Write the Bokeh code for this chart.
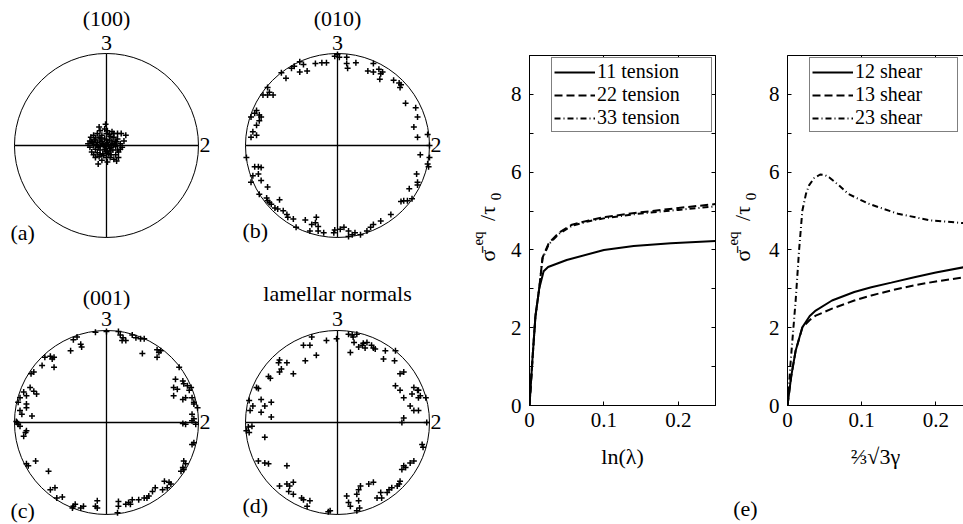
import math
from bokeh.plotting import figure
from bokeh.layouts import row, column
from bokeh.models import Range1d, FixedTicker, LinearAxis
from bokeh.core.properties import value
from bokeh.embed import file_html
from bokeh.resources import INLINE

FONT = "Liberation Serif"

# ---------------- pole figure data (normalised to unit circle) ----------------
a_x = [-0.01, -0.02, -0.07, 0.01, 0.06, 0.12, 0.16, 0.21, -0.10, -0.14, -0.17, -0.18, -0.16, -0.12, -0.08,
       -0.05, 0.00, 0.04, 0.08, 0.12, 0.10, 0.06, 0.03, -0.02, -0.07, -0.10, -0.14, -0.18, -0.12, -0.07,
       -0.04, 0.01, 0.05, 0.10, 0.15, 0.15, 0.12, 0.07, 0.03, -0.02, -0.07, -0.10, -0.14, -0.08, -0.04,
       0.01, 0.05, 0.10, 0.13, 0.17, 0.08, 0.04, 0.00, -0.05, -0.09, 0.11, 0.01, -0.03, -0.12, -0.16,
       -0.07, 0.04, -0.01, -0.05, 0.08, -0.08, 0.13, 0.19, -0.20, 0.03,
       -0.11, -0.03, 0.02, 0.07, -0.13, -0.06, 0.00, 0.09, -0.09, 0.05, -0.01, -0.04, 0.11, -0.15, 0.02]
a_y = [0.23, 0.18, 0.16, 0.16, 0.15, 0.13, 0.13, 0.11, 0.13, 0.11, 0.09, 0.05, 0.04, 0.07, 0.09,
       0.11, 0.13, 0.10, 0.09, 0.07, 0.04, 0.05, 0.06, 0.07, 0.05, 0.03, 0.00, -0.02, -0.04, -0.01,
       0.02, 0.03, 0.01, -0.01, 0.02, -0.04, -0.05, -0.05, -0.03, -0.04, -0.05, -0.08, -0.10, -0.12, -0.09,
       -0.07, -0.10, -0.10, -0.07, -0.02, -0.15, -0.13, -0.13, -0.16, -0.20, -0.17, -0.18, -0.11, -0.13, -0.07,
       -0.10, -0.06, -0.01, 0.04, 0.13, 0.20, -0.13, 0.05, 0.02, 0.12,
       0.01, 0.00, 0.01, 0.02, 0.06, 0.08, 0.06, 0.01, -0.02, -0.02, -0.06, 0.01, 0.04, 0.03, -0.09]

b_x = [-0.03, 0.00, 0.02, 0.10, 0.10, 0.11, 0.20, -0.24, -0.17, -0.12, -0.41, -0.37, -0.47, -0.50, -0.33,
       -0.41, -0.56, -0.61, 0.39, 0.33, 0.39, 0.45, 0.47, 0.49, 0.46, 0.61, 0.67, 0.69, 0.68, 0.74,
       0.85, 0.87, 0.83, 0.87, 0.98, 1.00, 0.90, 1.00, 0.98, 0.99, 0.86, 0.87, 0.87, 0.78, 0.76,
       0.69, 0.72, 0.81, 0.58, 0.47, 0.39, 0.36, 0.32, 0.25, 0.19, 0.16, 0.12, 0.07, 0.03, -0.03,
       -0.04, 0.12, -0.76, -0.74, -0.81, -0.76, -0.70, -0.88, -0.90, -0.85, -0.94, -0.83, -0.85, -0.88, -0.92,
       -0.94, -0.88, -0.99, -0.90, -0.86, -0.83, -0.92, -0.86, -0.94, -0.83, -0.76, -0.85, -0.77, -0.76, -0.74,
       -0.72, -0.63, -0.68, -0.65, -0.59, -0.55, -0.54, -0.48, -0.45, -0.35, -0.28, -0.24, -0.23, -0.21, -0.30,
       -0.21, -0.15]
b_y = [0.97, 0.99, 0.96, 0.96, 0.89, 0.84, 0.90, 0.89, 0.90, 0.90, 0.91, 0.88, 0.86, 0.84, 0.81,
       0.80, 0.73, 0.79, 0.89, 0.81, 0.80, 0.83, 0.78, 0.80, 0.72, 0.71, 0.68, 0.66, 0.63, 0.46,
       0.41, 0.31, 0.20, 0.09, 0.12, 0.00, -0.10, -0.13, -0.20, -0.23, -0.31, -0.40, -0.43, -0.47, -0.60,
       -0.61, -0.60, -0.58, -0.75, -0.82, -0.86, -0.89, -0.93, -0.97, -0.95, -0.97, -0.93, -0.89, -0.91, -0.92,
       -0.95, -0.99, 0.63, 0.58, 0.55, 0.55, 0.55, 0.38, 0.35, 0.33, 0.31, 0.31, 0.27, 0.22, 0.15,
       0.09, 0.11, -0.13, -0.23, -0.23, -0.24, -0.33, -0.31, -0.40, -0.38, -0.45, -0.53, -0.57, -0.60, -0.62,
       -0.64, -0.59, -0.68, -0.69, -0.71, -0.75, -0.78, -0.80, -0.89, -0.81, -0.86, -0.84, -0.78, -0.88, -0.93,
       -0.93, -0.95]

c_x = [-0.12, 0.00, 0.13, 0.15, 0.18, 0.21, 0.17, 0.28, 0.32, 0.37, 0.41, 0.39, 0.55, 0.57, 0.55,
       0.59, -0.32, -0.36, -0.28, -0.27, -0.39, -0.61, -0.57, -0.59, -0.67, -0.70, -0.57, -0.79, -0.82, -0.83,
       -0.79, -0.76, -0.90, -0.87, -0.94, -0.96, -0.87, -0.87, -0.94, -0.92, -0.81, -0.98, -0.97, -0.96, -0.94,
       -0.87, -0.88, -0.90, 0.79, 0.75, 0.83, 0.84, 0.73, 0.77, 0.88, 0.90, 0.92, 0.86, 0.93, 0.83,
       0.73, 0.95, 0.95, 0.99, 0.93, 0.95, 0.93, 0.83, 0.86, 0.97, 0.95, 0.93, 0.84, 0.86, 0.83,
       0.84, 0.81, 0.63, 0.68, 0.70, 0.53, 0.66, 0.61, 0.50, 0.46, 0.41, 0.44, 0.35, 0.28, 0.24,
       0.26, 0.21, 0.13, 0.13, 0.12, -0.10, -0.12, -0.10, -0.25, -0.28, -0.36, -0.37, -0.34, -0.48, -0.54,
       -0.56, -0.61, -0.63, -0.77, -0.87, -0.85]
c_y = [0.98, 0.99, 0.99, 0.95, 0.92, 0.89, 0.89, 0.95, 0.92, 0.91, 0.91, 0.75, 0.79, 0.76, 0.71,
       0.78, 0.93, 0.90, 0.85, 0.82, 0.78, 0.72, 0.71, 0.69, 0.71, 0.62, 0.60, 0.55, 0.53, 0.38,
       0.34, 0.31, 0.33, 0.29, 0.27, 0.22, 0.20, 0.16, 0.13, 0.09, 0.07, 0.01, 0.00, -0.02, -0.04,
       -0.09, -0.11, -0.15, 0.60, 0.47, 0.45, 0.42, 0.38, 0.36, 0.40, 0.35, 0.38, 0.27, 0.27, 0.25,
       0.29, 0.22, 0.20, 0.16, 0.09, 0.04, 0.02, -0.01, -0.02, -0.02, -0.22, -0.24, -0.42, -0.45, -0.49,
       -0.51, -0.53, -0.64, -0.65, -0.67, -0.71, -0.71, -0.73, -0.75, -0.80, -0.82, -0.82, -0.84, -0.84, -0.87,
       -0.89, -0.89, -0.86, -0.91, -0.98, -0.85, -0.91, -0.93, -0.91, -0.93, -0.91, -0.93, -0.89, -0.81, -0.82,
       -0.71, -0.73, -0.53, -0.42, -0.45, -0.47]

d_x = [-0.28, -0.30, -0.37, -0.12, -0.01, 0.12, 0.16, 0.17, 0.21, 0.18, 0.23, 0.27, 0.28, 0.32, 0.37,
       0.39, 0.30, 0.14, 0.41, 0.52, 0.63, 0.50, 0.62, -0.23, -0.35, -0.55, -0.63, -0.64, -0.61, -0.63,
       -0.48, -0.75, -0.73, -0.88, -0.86, -0.96, -0.83, -0.72, -0.79, -0.83, -0.92, -0.95, -0.72, -0.93, -0.97,
       -0.99, -0.96, 0.68, 0.72, 0.63, 0.68, 0.83, 0.87, 0.81, 0.88, 0.90, 0.88, 0.96, 0.72, 0.79,
       0.83, 0.72, 0.88, 0.70, 0.97, 0.92, 0.93, 0.83, 0.79, 0.72, 0.74, 0.70, 0.68, 0.67, 0.65,
       0.59, 0.56, 0.54, 0.47, 0.43, 0.48, 0.39, 0.34, 0.25, 0.23, 0.21, 0.10, 0.12, 0.14, 0.23,
       0.24, 0.21, -0.08, -0.10, -0.79, -0.86, -0.79, -0.75, -0.55, -0.63, -0.55, -0.52, -0.48, -0.53, -0.48,
       -0.39, -0.37, -0.30, -0.33]
d_y = [0.93, 0.84, 0.84, 0.89, 0.91, 0.96, 0.95, 0.93, 0.96, 0.87, 0.82, 0.84, 0.86, 0.87, 0.84,
       0.81, 0.81, 0.76, 0.80, 0.78, 0.78, 0.69, 0.67, 0.73, 0.67, 0.65, 0.68, 0.65, 0.58, 0.55,
       0.53, 0.50, 0.48, 0.38, 0.37, 0.24, 0.25, 0.22, 0.18, 0.11, 0.18, 0.13, 0.06, -0.04, -0.05,
       -0.09, -0.11, 0.53, 0.55, 0.40, 0.35, 0.38, 0.35, 0.31, 0.35, 0.29, 0.27, 0.27, 0.27, 0.18,
       0.13, 0.05, 0.13, 0.00, 0.00, -0.24, -0.27, -0.42, -0.44, -0.47, -0.49, -0.51, -0.64, -0.67, -0.69,
       -0.71, -0.73, -0.76, -0.76, -0.82, -0.82, -0.65, -0.67, -0.69, -0.73, -0.78, -0.80, -0.87, -0.91, -0.85,
       -0.93, -0.96, -0.96, -0.97, -0.16, -0.42, -0.44, -0.45, -0.47, -0.69, -0.67, -0.69, -0.65, -0.75, -0.78,
       -0.82, -0.84, -0.85, -0.91]

pole_titles = ["(100)", "(010)", "(001)", "lamellar normals"]
pole_letters = ["(a)", "(b)", "(c)", "(d)"]

# ---------------- stress-strain data ----------------
t_x11 = [0, 0.004, 0.008, 0.013, 0.019, 0.025, 0.05, 0.1, 0.14, 0.19, 0.25]
t_y11 = [0, 1.2, 2.3, 3.0, 3.45, 3.56, 3.74, 4.0, 4.1, 4.17, 4.23]
t_x22 = [0, 0.004, 0.008, 0.013, 0.0175, 0.026, 0.04, 0.057, 0.08, 0.102, 0.146, 0.2, 0.25]
t_y22 = [0, 1.2, 2.3, 3.0, 3.8, 4.18, 4.45, 4.65, 4.76, 4.85, 4.96, 5.08, 5.18]
t_x33 = [0, 0.004, 0.008, 0.013, 0.0175, 0.026, 0.04, 0.057, 0.08, 0.102, 0.146, 0.2, 0.25]
t_y33 = [0, 1.2, 2.3, 3.0, 3.78, 4.15, 4.42, 4.62, 4.74, 4.82, 4.93, 5.03, 5.12]

s_x12 = [0, 0.005, 0.011, 0.02, 0.03, 0.038, 0.06, 0.09, 0.113, 0.14, 0.171, 0.2, 0.25]
s_y12 = [0, 0.75, 1.41, 2.01, 2.3, 2.44, 2.70, 2.92, 3.04, 3.16, 3.30, 3.42, 3.6]
s_x13 = [0, 0.005, 0.011, 0.02, 0.03, 0.038, 0.06, 0.09, 0.113, 0.14, 0.171, 0.2, 0.25]
s_y13 = [0, 0.75, 1.41, 2.0, 2.2, 2.31, 2.49, 2.70, 2.83, 2.96, 3.09, 3.19, 3.33]
s_x23 = [0, 0.0044, 0.011, 0.0156, 0.02, 0.025, 0.029, 0.036, 0.044, 0.05, 0.056, 0.07, 0.082, 0.109,
         0.149, 0.193, 0.237, 0.25]
s_y23 = [0, 1.16, 2.70, 3.99, 5.01, 5.45, 5.66, 5.85, 5.94, 5.93, 5.87, 5.65, 5.44, 5.19,
         4.93, 4.76, 4.69, 4.67]

tension_labels = ["11 tension", "22 tension", "33 tension"]
shear_labels = ["12 shear", "13 shear", "23 shear"]
x_ticks = [0, 0.1, 0.2]
x_tick_labels = {0: "0", 0.1: "0.1", 0.2: "0.2"}
y_ticks = [0, 2, 4, 6, 8]
y_minor = [1, 3, 5, 7]
# y label pieces: sigma-bar, superscript "eq", "/tau", subscript "0"
y_label_parts = ["σ̄", "eq", "/τ", "0"]
y_label_sizes = ["22px", "15px", "22px", "15px"]
panel_e = "(e)"

TOP, BOTTOM, H = 55, 119, 524


def pole(width, height, xr, yr, xs, ys, title, letter, title_y, three_y, letter_x, letter_y):
    p = figure(width=width, height=height, x_range=Range1d(*xr), y_range=Range1d(*yr),
               output_backend="svg", toolbar_location=None,
               x_axis_location=None, y_axis_location=None, min_border=0)
    p.outline_line_color = None
    p.grid.grid_line_color = None
    p.ellipse(x=[0], y=[0], width=[2], height=[2], fill_color=None,
              line_color="black", line_width=1)
    p.segment(x0=[-1, 0], y0=[0, -1], x1=[1, 0], y1=[0, 1], line_color="black", line_width=1.3)
    p.scatter(xs, ys, marker="cross", size=6, line_color="black", line_width=1.5)
    p.text(x=[0, 0], y=[title_y, three_y], text=[title, "3"], text_font=value(FONT),
           text_font_size="22px", text_align="center", text_baseline="middle", text_color="black")
    p.text(x=[1.01, letter_x], y=[0, letter_y], text=["2", letter], text_font=value(FONT),
           text_font_size="22px", text_align="left", text_baseline="middle", text_color="black")
    return p


pa = pole(230, 270, (-1.152, 1.348), (-1.359, 1.576), a_x, a_y, pole_titles[0], pole_letters[0],
          1.38, 1.11, -1.043, -0.946)
pb = pole(230, 270, (-1.163, 1.337), (-1.359, 1.576), b_x, b_y, pole_titles[1], pole_letters[1],
          1.38, 1.11, -1.033, -0.924)
pc = pole(230, 254, (-1.152, 1.348), (-1.109, 1.652), c_x, c_y, pole_titles[2], pole_letters[2],
          1.36, 1.13, -1.043, -0.957)
pd = pole(230, 254, (-1.163, 1.337), (-1.109, 1.652), d_x, d_y, pole_titles[3], pole_letters[3],
          1.40, 1.13, -1.033, -0.902)


def label_strip(width, xs, bottom_text=None):
    """Narrow canvas holding the rotated y-axis label (frame aligned with the plots)."""
    p = figure(width=width, height=H, x_range=Range1d(0, width), y_range=Range1d(BOTTOM, H - TOP),
               output_backend="svg", toolbar_location=None,
               x_axis_location="below" if bottom_text else None, y_axis_location=None,
               min_border_left=0, min_border_right=0, min_border_top=TOP, min_border_bottom=BOTTOM)
    p.outline_line_color = None
    p.grid.grid_line_color = None
    ys = [269, 286, 311, 328]
    for part, x, y, fs in zip(y_label_parts, xs, ys, y_label_sizes):
        p.text(x=[x], y=[y], text=[part], angle=math.pi / 2, text_font=value(FONT),
               text_font_size=fs, text_align="center", text_baseline="middle", text_color="black")
    if bottom_text:
        ax = p.xaxis[0]
        ax.ticker = FixedTicker(ticks=[])
        ax.axis_line_color = None
        ax.major_tick_line_color = None
        ax.minor_tick_line_color = None
        ax.major_label_standoff = 0
        ax.axis_label = bottom_text
        ax.axis_label_standoff = 90
        ax.axis_label_text_font = FONT
        ax.axis_label_text_font_size = "22px"
        ax.axis_label_text_font_style = "normal"
        ax.axis_label_text_color = "black"
    return p


def style_axis(ax, ticks, minor, labels=True):
    ax.ticker = FixedTicker(ticks=ticks, minor_ticks=minor)
    ax.major_tick_in = 4
    ax.major_tick_out = 0
    ax.minor_tick_in = 4
    ax.minor_tick_out = 0
    ax.axis_line_color = "black"
    ax.axis_line_width = 1
    ax.major_tick_line_color = "black"
    ax.minor_tick_line_color = "black"
    ax.major_label_text_font = FONT
    ax.major_label_text_font_size = "21px"
    ax.major_label_text_color = "black" if labels else None
    ax.axis_label_text_font = FONT
    ax.axis_label_text_font_size = "22px"
    ax.axis_label_text_font_style = "normal"
    ax.axis_label_text_color = "black"
    if not labels:
        ax.major_label_standoff = 0


def stress(width, xmax, right, xlabel, xs_list, ys_list, labels, box_right, label_w):
    p = figure(width=width, height=H, x_range=Range1d(0, xmax), y_range=Range1d(0, 9),
               output_backend="svg", toolbar_location=None,
               min_border_left=20, min_border_right=right, min_border_top=TOP, min_border_bottom=BOTTOM)
    p.grid.grid_line_color = None
    p.outline_line_color = "black" if box_right else None
    style_axis(p.xaxis[0], x_ticks, [])
    p.xaxis[0].major_label_overrides = x_tick_labels
    p.xaxis[0].major_label_standoff = 7
    p.xaxis[0].axis_label = xlabel
    p.xaxis[0].axis_label_standoff = 14
    style_axis(p.yaxis[0], y_ticks, y_minor)
    p.yaxis[0].major_label_standoff = 8
    top = LinearAxis()
    style_axis(top, x_ticks, [], labels=False)
    p.add_layout(top, "above")
    if box_right:
        rt = LinearAxis()
        style_axis(rt, y_ticks, y_minor, labels=False)
        p.add_layout(rt, "right")
    dashes = ["solid", "8 4", "6 3 1 3"]
    for xs, ys, lab, dash in zip(xs_list, ys_list, labels, dashes):
        p.line(xs, ys, line_color="black", line_width=2, line_dash=dash, legend_label=lab)
    lg = p.legend[0]
    lg.location = (22, 273)
    lg.padding = 2
    lg.margin = 0
    lg.spacing = 0
    lg.glyph_width = 41
    lg.glyph_height = 22
    lg.label_height = 22
    lg.label_width = label_w
    lg.label_standoff = 2
    lg.label_text_font = FONT
    lg.label_text_font_size = "20px"
    lg.label_text_color = "black"
    lg.border_line_color = "black"
    lg.border_line_width = 1
    lg.background_fill_alpha = 1
    return p


lab1 = label_strip(47, [27, 17, 27, 35])
p1 = stress(218, 0.25, 10, "ln(λ)", [t_x11, t_x22, t_x33], [t_y11, t_y22, t_y33],
            tension_labels, True, 112)
lab2 = label_strip(40, [17, 7, 17, 25], bottom_text=panel_e)
p2 = stress(198, 0.2373, 0, "⅔√3γ", [s_x12, s_x13, s_x23], [s_y12, s_y13, s_y23],
            shear_labels, False, 100)

layout = row(column(row(pa, pb), row(pc, pd)), lab1, p1, lab2, p2)

open("out.html", "w").write(file_html(layout, INLINE))
